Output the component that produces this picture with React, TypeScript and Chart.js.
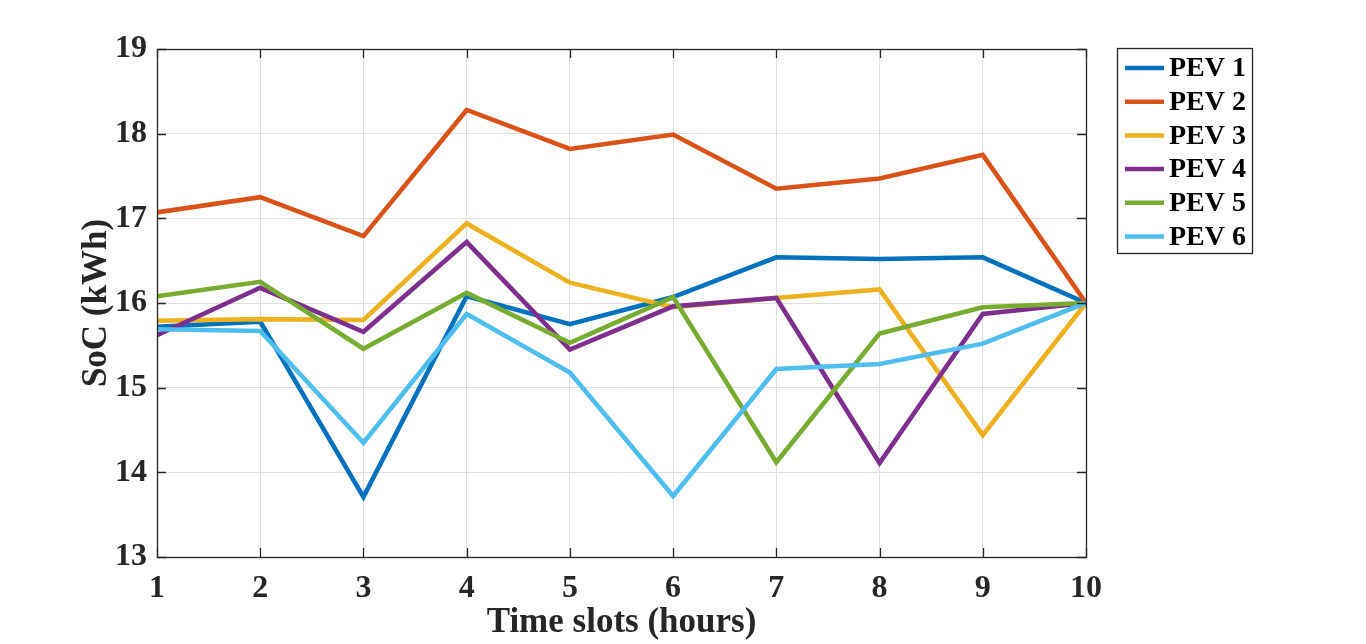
import React, { useEffect, useRef } from "react";
import { Chart, registerables } from "chart.js";

Chart.register(...registerables);

const timeSlots = [1, 2, 3, 4, 5, 6, 7, 8, 9, 10];
const pev1 = [15.72, 15.78, 13.71, 16.08, 15.75, 16.07, 16.54, 16.52, 16.54, 16.0];
const pev2 = [17.07, 17.25, 16.79, 18.28, 17.82, 17.99, 17.35, 17.47, 17.75, 16.0];
const pev3 = [15.79, 15.81, 15.8, 16.94, 16.24, 15.95, 16.06, 16.16, 14.44, 16.0];
const pev4 = [15.62, 16.18, 15.66, 16.72, 15.45, 15.96, 16.06, 14.11, 15.87, 16.0];
const pev5 = [16.08, 16.25, 15.46, 16.12, 15.53, 16.07, 14.12, 15.64, 15.95, 16.0];
const pev6 = [15.69, 15.67, 14.35, 15.87, 15.18, 13.72, 15.22, 15.28, 15.52, 16.0];
const seriesNames = ["PEV 1", "PEV 2", "PEV 3", "PEV 4", "PEV 5", "PEV 6"];
const seriesColors = ["#0072BD", "#D95319", "#EDB120", "#7E2F8E", "#77AC30", "#4DBEEE"];
const seriesValues = [pev1, pev2, pev3, pev4, pev5, pev6];
const xTitle = "Time slots (hours)";
const yTitle = "SoC (kWh)";

const FONT = "'Liberation Serif', 'Times New Roman', serif";
const AXIS_COLOR = "#262626";

const boxAndTicksPlugin = {
  id: "boxAndTicks",
  afterDatasetsDraw(chart: any) {
    const { ctx, chartArea, scales } = chart;
    const { left, right, top, bottom } = chartArea;
    ctx.save();
    ctx.strokeStyle = AXIS_COLOR;
    ctx.lineWidth = 1.3;
    const tl = 9;
    ctx.beginPath();
    scales.y.ticks.forEach((t: any) => {
      const y = Math.round(scales.y.getPixelForValue(t.value)) + 0.5;
      ctx.moveTo(left, y);
      ctx.lineTo(left + tl, y);
      ctx.moveTo(right, y);
      ctx.lineTo(right - tl, y);
    });
    scales.x.ticks.forEach((t: any) => {
      const x = Math.round(scales.x.getPixelForValue(t.value)) + 0.5;
      ctx.moveTo(x, bottom);
      ctx.lineTo(x, bottom - tl);
      ctx.moveTo(x, top);
      ctx.lineTo(x, top + tl);
    });
    ctx.stroke();
    ctx.strokeRect(left + 0.5, top + 0.5, right - left, bottom - top);
    ctx.restore();
  },
};

const legendPlugin = {
  id: "customLegend",
  afterDraw(chart: any) {
    const { ctx } = chart;
    const bx = 1117, by = 48, bw = 135, bh = 205;
    ctx.save();
    ctx.fillStyle = "#ffffff";
    ctx.fillRect(bx, by, bw, bh);
    ctx.strokeStyle = AXIS_COLOR;
    ctx.lineWidth = 1.3;
    ctx.strokeRect(bx + 0.5, by + 0.5, bw, bh);
    const startY = 68;
    const step = 33.7;
    chart.data.datasets.forEach((ds: any, i: number) => {
      const y = startY + i * step;
      ctx.strokeStyle = ds.borderColor;
      ctx.lineWidth = 4.5;
      ctx.beginPath();
      ctx.moveTo(1125, y);
      ctx.lineTo(1164, y);
      ctx.stroke();
      ctx.fillStyle = "#000000";
      ctx.font = `bold 28px ${FONT}`;
      ctx.textBaseline = "middle";
      ctx.textAlign = "left";
      ctx.fillText(ds.label, 1169, y + 1);
    });
    ctx.restore();
  },
};

export default function App() {
  const canvasRef = useRef<HTMLCanvasElement | null>(null);

  useEffect(() => {
    const canvas = canvasRef.current;
    if (!canvas) return;
    const chart = new Chart(canvas, {
      type: "line",
      data: {
        datasets: seriesNames.map((name, i) => ({
          label: name,
          data: timeSlots.map((x, j) => ({ x, y: seriesValues[i][j] })),
          borderColor: seriesColors[i],
          backgroundColor: seriesColors[i],
          borderWidth: 4.6,
          pointRadius: 0,
          tension: 0,
          fill: false,
          order: seriesNames.length - 1 - i,
        })),
      },
      options: {
        responsive: false,
        animation: false,
        devicePixelRatio: 1,
        layout: { padding: { top: 49, right: 280, left: 0, bottom: 0 } },
        plugins: {
          legend: { display: false },
          tooltip: { enabled: false },
        },
        scales: {
          x: {
            type: "linear",
            min: 1,
            max: 10,
            ticks: {
              stepSize: 1,
              color: AXIS_COLOR,
              font: { family: FONT, size: 32, weight: "bold" },
              padding: 13,
              maxRotation: 0,
            },
            grid: { color: "#dedede", lineWidth: 1, drawTicks: false },
            border: { display: false },
            title: {
              display: true,
              text: xTitle,
              color: AXIS_COLOR,
              font: { family: FONT, size: 35, weight: "bold" },
              padding: { top: 0, bottom: 0 },
            },
            afterFit(scale: any) {
              scale.height = 87;
            },
          },
          y: {
            type: "linear",
            min: 13,
            max: 19,
            ticks: {
              stepSize: 1,
              color: AXIS_COLOR,
              font: { family: FONT, size: 32, weight: "bold" },
              padding: 10,
            },
            grid: { color: "#dedede", lineWidth: 1, drawTicks: false },
            border: { display: false },
            title: {
              display: true,
              text: yTitle,
              color: AXIS_COLOR,
              font: { family: FONT, size: 35, weight: "bold" },
              padding: { top: 76, bottom: 0 },
            },
            afterFit(scale: any) {
              scale.width = 157;
            },
          },
        },
      },
      plugins: [boxAndTicksPlugin, legendPlugin],
    });
    return () => chart.destroy();
  }, []);

  return (
    <div style={{ position: "absolute", left: 0, top: 0, width: 1366, height: 644, background: "#ffffff" }}>
      <canvas ref={canvasRef} width={1366} height={644} style={{ display: "block", width: 1366, height: 644 }} />
    </div>
  );
}
